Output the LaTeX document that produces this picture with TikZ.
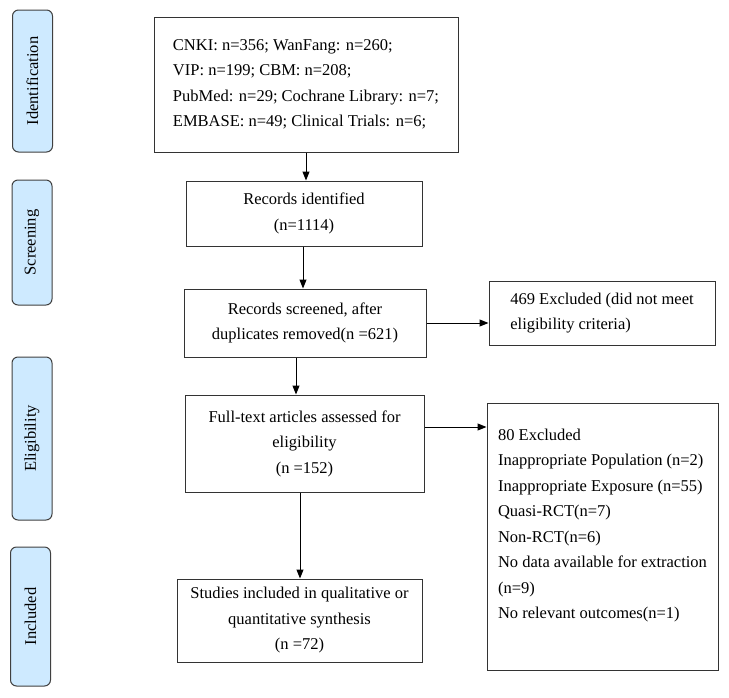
\documentclass[tikz,border=0pt]{standalone}
\usepackage{fontspec}
\setmainfont{Liberation Serif}
\usetikzlibrary{arrows.meta}
\begin{document}
\begin{tikzpicture}[x=1pt,y=-1pt]
\newcommand{\boxfont}{\fontsize{16.5}{25.5}\selectfont}
\newcommand{\stage}{\node[stagebox, rotate=90] }
\newcommand{\flow}{\node[flowbox] }
\definecolor{stagefill}{RGB}{206,234,255}
\tikzset{every path/.style={line width=1pt}}
\tikzset{stagebox/.style={draw=black!75, fill=stagefill, rounded corners=6pt, minimum height=40pt, inner sep=0pt, font=\boxfont}}
\tikzset{flowbox/.style={draw=black!80, fill=white, align=center, inner sep=0pt, font=\boxfont}}
\tikzset{leftbox/.style={flowbox, align=left}}
\tikzset{flowarrow/.style={-{Triangle[length=9pt,width=7pt]}}}
\useasboundingbox (0,0) rectangle (729,697);

    % stages
    \stage[minimum width=142pt] (identification) at (32.5,81) {Identification};
    \stage[minimum width=125pt] (screening) at (32,242.5) {Screening};
    \stage[minimum width=163pt] (eligibility) at (32,438.5) {Eligibility};
    \stage[minimum width=139pt] (included) at (30.5,616.5) {Included};
    
    % main column
    \node[leftbox, minimum width=304pt, minimum height=135pt] (sources) at (306,84.5)
      {CNKI: n=356; WanFang: n=260;\\ VIP: n=199; CBM: n=208;\\ PubMed: n=29; Cochrane Library: n=7;\\ EMBASE: n=49; Clinical Trials: n=6;};
    \flow[minimum width=236pt, minimum height=65pt] (identified) at (304,213.5) {Records identified\\ (n=1114)};
    \flow[minimum width=242pt, minimum height=68pt] (screened) at (305,323) {Records screened, after\\ duplicates removed(n =621)};
    \flow[minimum width=239pt, minimum height=97pt] (fulltext) at (304.5,443.5) {Full-text articles assessed for\\ eligibility\\ (n =152)};
    \flow[minimum width=245pt, minimum height=83pt] (synthesis) at (299.5,620.5) {Studies included in qualitative or\\ quantitative synthesis\\ (n =72)};
    
    % exclusions
    \node[leftbox, minimum width=226pt, minimum height=64pt] (excludeda) at (602,313)
      {469 Excluded (did not meet\\ eligibility criteria)};
    \node[leftbox, minimum width=231pt, minimum height=267pt] (excludedb) at (602.5,536.5)
      {80 Excluded\\ Inappropriate Population (n=2)\\ Inappropriate Exposure (n=55)\\ Quasi-RCT(n=7)\\ Non-RCT(n=6)\\ No data available for extraction\\ (n=9)\\ No relevant outcomes(n=1)\\ \mbox{}};
    
    \draw[flowarrow] (sources.south) -- (sources.south |- identified.north);
    \draw[flowarrow] ([xshift=-1pt]identified.south) -- ([xshift=-1pt]identified.south |- screened.north);
    \draw[flowarrow] ([xshift=-9pt]screened.south) -- ([xshift=-9pt]screened.south |- fulltext.north);
    \draw[flowarrow] ([xshift=-4.5pt]fulltext.south) -- ([xshift=-4.5pt]fulltext.south |- synthesis.north);
    \draw[flowarrow] (screened.east) -- (screened.east -| excludeda.west);
    \draw[flowarrow] ([yshift=16.5pt]fulltext.east) -- ([yshift=16.5pt]fulltext.east -| excludedb.west);
\end{tikzpicture}
\end{document}
